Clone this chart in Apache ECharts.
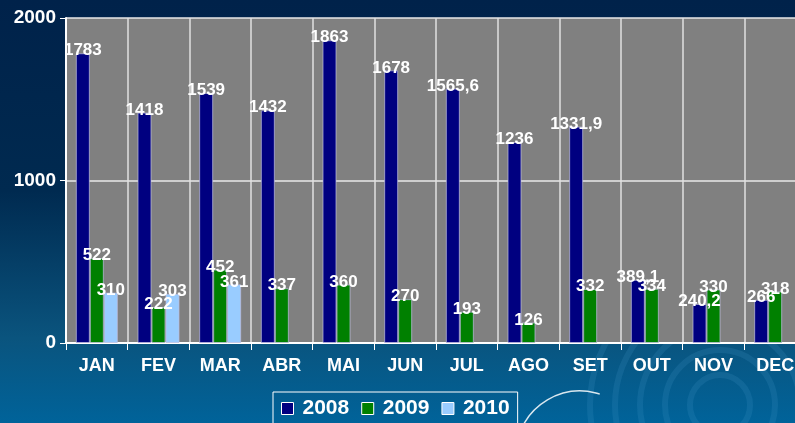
<!DOCTYPE html>
<html>
<head>
<meta charset="utf-8">
<script src="https://cdn.jsdelivr.net/npm/echarts@6/dist/echarts.min.js"></script>
<style>
  html, body { margin: 0; padding: 0; overflow: hidden; }
  #chart { width: 806px; height: 423px; }
</style>
</head>
<body>
<div id="chart"></div>
<script>
const months = ['JAN', 'FEV', 'MAR', 'ABR', 'MAI', 'JUN', 'JUL', 'AGO', 'SET', 'OUT', 'NOV', 'DEC']
const seriesNames = ['2008', '2009', '2010']
const values2008 = [1783, 1418, 1539, 1432, 1863, 1678, 1565.6, 1236, 1331.9, 389.1, 240.2, 266]
const values2009 = [522, 222, 452, 337, 360, 270, 193, 126, 332, 334, 330, 318]
const values2010 = [310, 303, 361, null, null, null, null, null, null, null, null, null]
const yTicks = [0, 1000, 2000]

const colors = ['#000080', '#008000', '#99ccff']
const allValues = [values2008, values2009, values2010]

// chart is a bit wider than the window so DEC gets cut like in the original
const myChart = echarts.init(document.getElementById('chart'))

let series = []
seriesNames.forEach((name, i) => {
  series.push({
    name: name,
    type: 'bar',
    barWidth: 14,
    barGap: '0%',
    data: allValues[i],
    itemStyle: {
      color: colors[i],
      borderColor: 'rgba(190,190,225,0.7)',
      borderWidth: 1
    },
    label: {
      show: true,
      position: 'top',
      distance: -6,
      color: '#fff',
      fontFamily: 'Liberation Sans, Arial, sans-serif',
      fontWeight: 'bold',
      fontSize: 17,
      formatter: function (p) {
        return String(p.value).replace('.', ',')
      }
    }
  })
})

// decorative ripples in the background
let ripples = []
;[30, 55, 80, 105, 130].forEach(r => {
  ripples.push({
    type: 'circle',
    silent: true,
    z: -1,
    shape: { cx: 720, cy: 405, r: r },
    style: { fill: null, stroke: 'rgba(80,160,210,0.16)', lineWidth: 6 }
  })
})
ripples.push({
  type: 'arc',
  silent: true,
  z: -1,
  shape: { cx: 580, cy: 455, r: 64, startAngle: Math.PI * 1.08, endAngle: Math.PI * 1.6 },
  style: { fill: null, stroke: 'rgba(255,255,255,0.85)', lineWidth: 1.5 }
})

const option = {
  animation: false,
  backgroundColor: new echarts.graphic.LinearGradient(0, 0, 0, 1, [
    { offset: 0, color: '#00224a' },
    { offset: 0.45, color: '#002a50' },
    { offset: 0.8, color: '#0a547e' },
    { offset: 1, color: '#00639a' }
  ]),
  graphic: ripples,
  grid: {
    left: 66,
    right: 0,
    top: 18,
    bottom: 80,
    show: true,
    backgroundColor: '#808080',
    borderWidth: 0
  },
  legend: {
    data: seriesNames,
    left: 273,
    top: 392,
    padding: [6, 8, 6, 8],
    borderColor: '#fff',
    borderWidth: 1,
    itemWidth: 12,
    itemHeight: 12,
    itemGap: 12,
    icon: 'rect',
    itemStyle: { borderColor: '#fff', borderWidth: 1 },
    textStyle: {
      color: '#fff',
      fontFamily: 'Liberation Sans, Arial, sans-serif',
      fontWeight: 'bold',
      fontSize: 21,
      padding: [0, 0, 0, 4]
    }
  },
  xAxis: {
    type: 'category',
    data: months,
    axisLine: { lineStyle: { color: '#fff', width: 2 } },
    axisTick: { show: true, length: 7, lineStyle: { color: '#fff' } },
    splitLine: { show: true, lineStyle: { color: '#e0e0e0', width: 1.5 } },
    axisLabel: {
      color: '#fff',
      fontFamily: 'Liberation Sans, Arial, sans-serif',
      fontWeight: 'bold',
      fontSize: 18,
      margin: 14
    }
  },
  yAxis: {
    type: 'value',
    min: yTicks[0],
    max: yTicks[yTicks.length - 1],
    interval: 1000,
    axisLine: { show: true, lineStyle: { color: '#fff', width: 2 } },
    axisTick: { show: true, length: 6, lineStyle: { color: '#fff' } },
    splitLine: { show: true, lineStyle: { color: '#e8e8e8', width: 1.5 } },
    axisLabel: {
      color: '#fff',
      fontFamily: 'Liberation Sans, Arial, sans-serif',
      fontWeight: 'bold',
      fontSize: 19,
      margin: 10,
      formatter: function (v) { return String(v) }
    }
  },
  series
}
myChart.setOption(option)
</script>
</body>
</html>
